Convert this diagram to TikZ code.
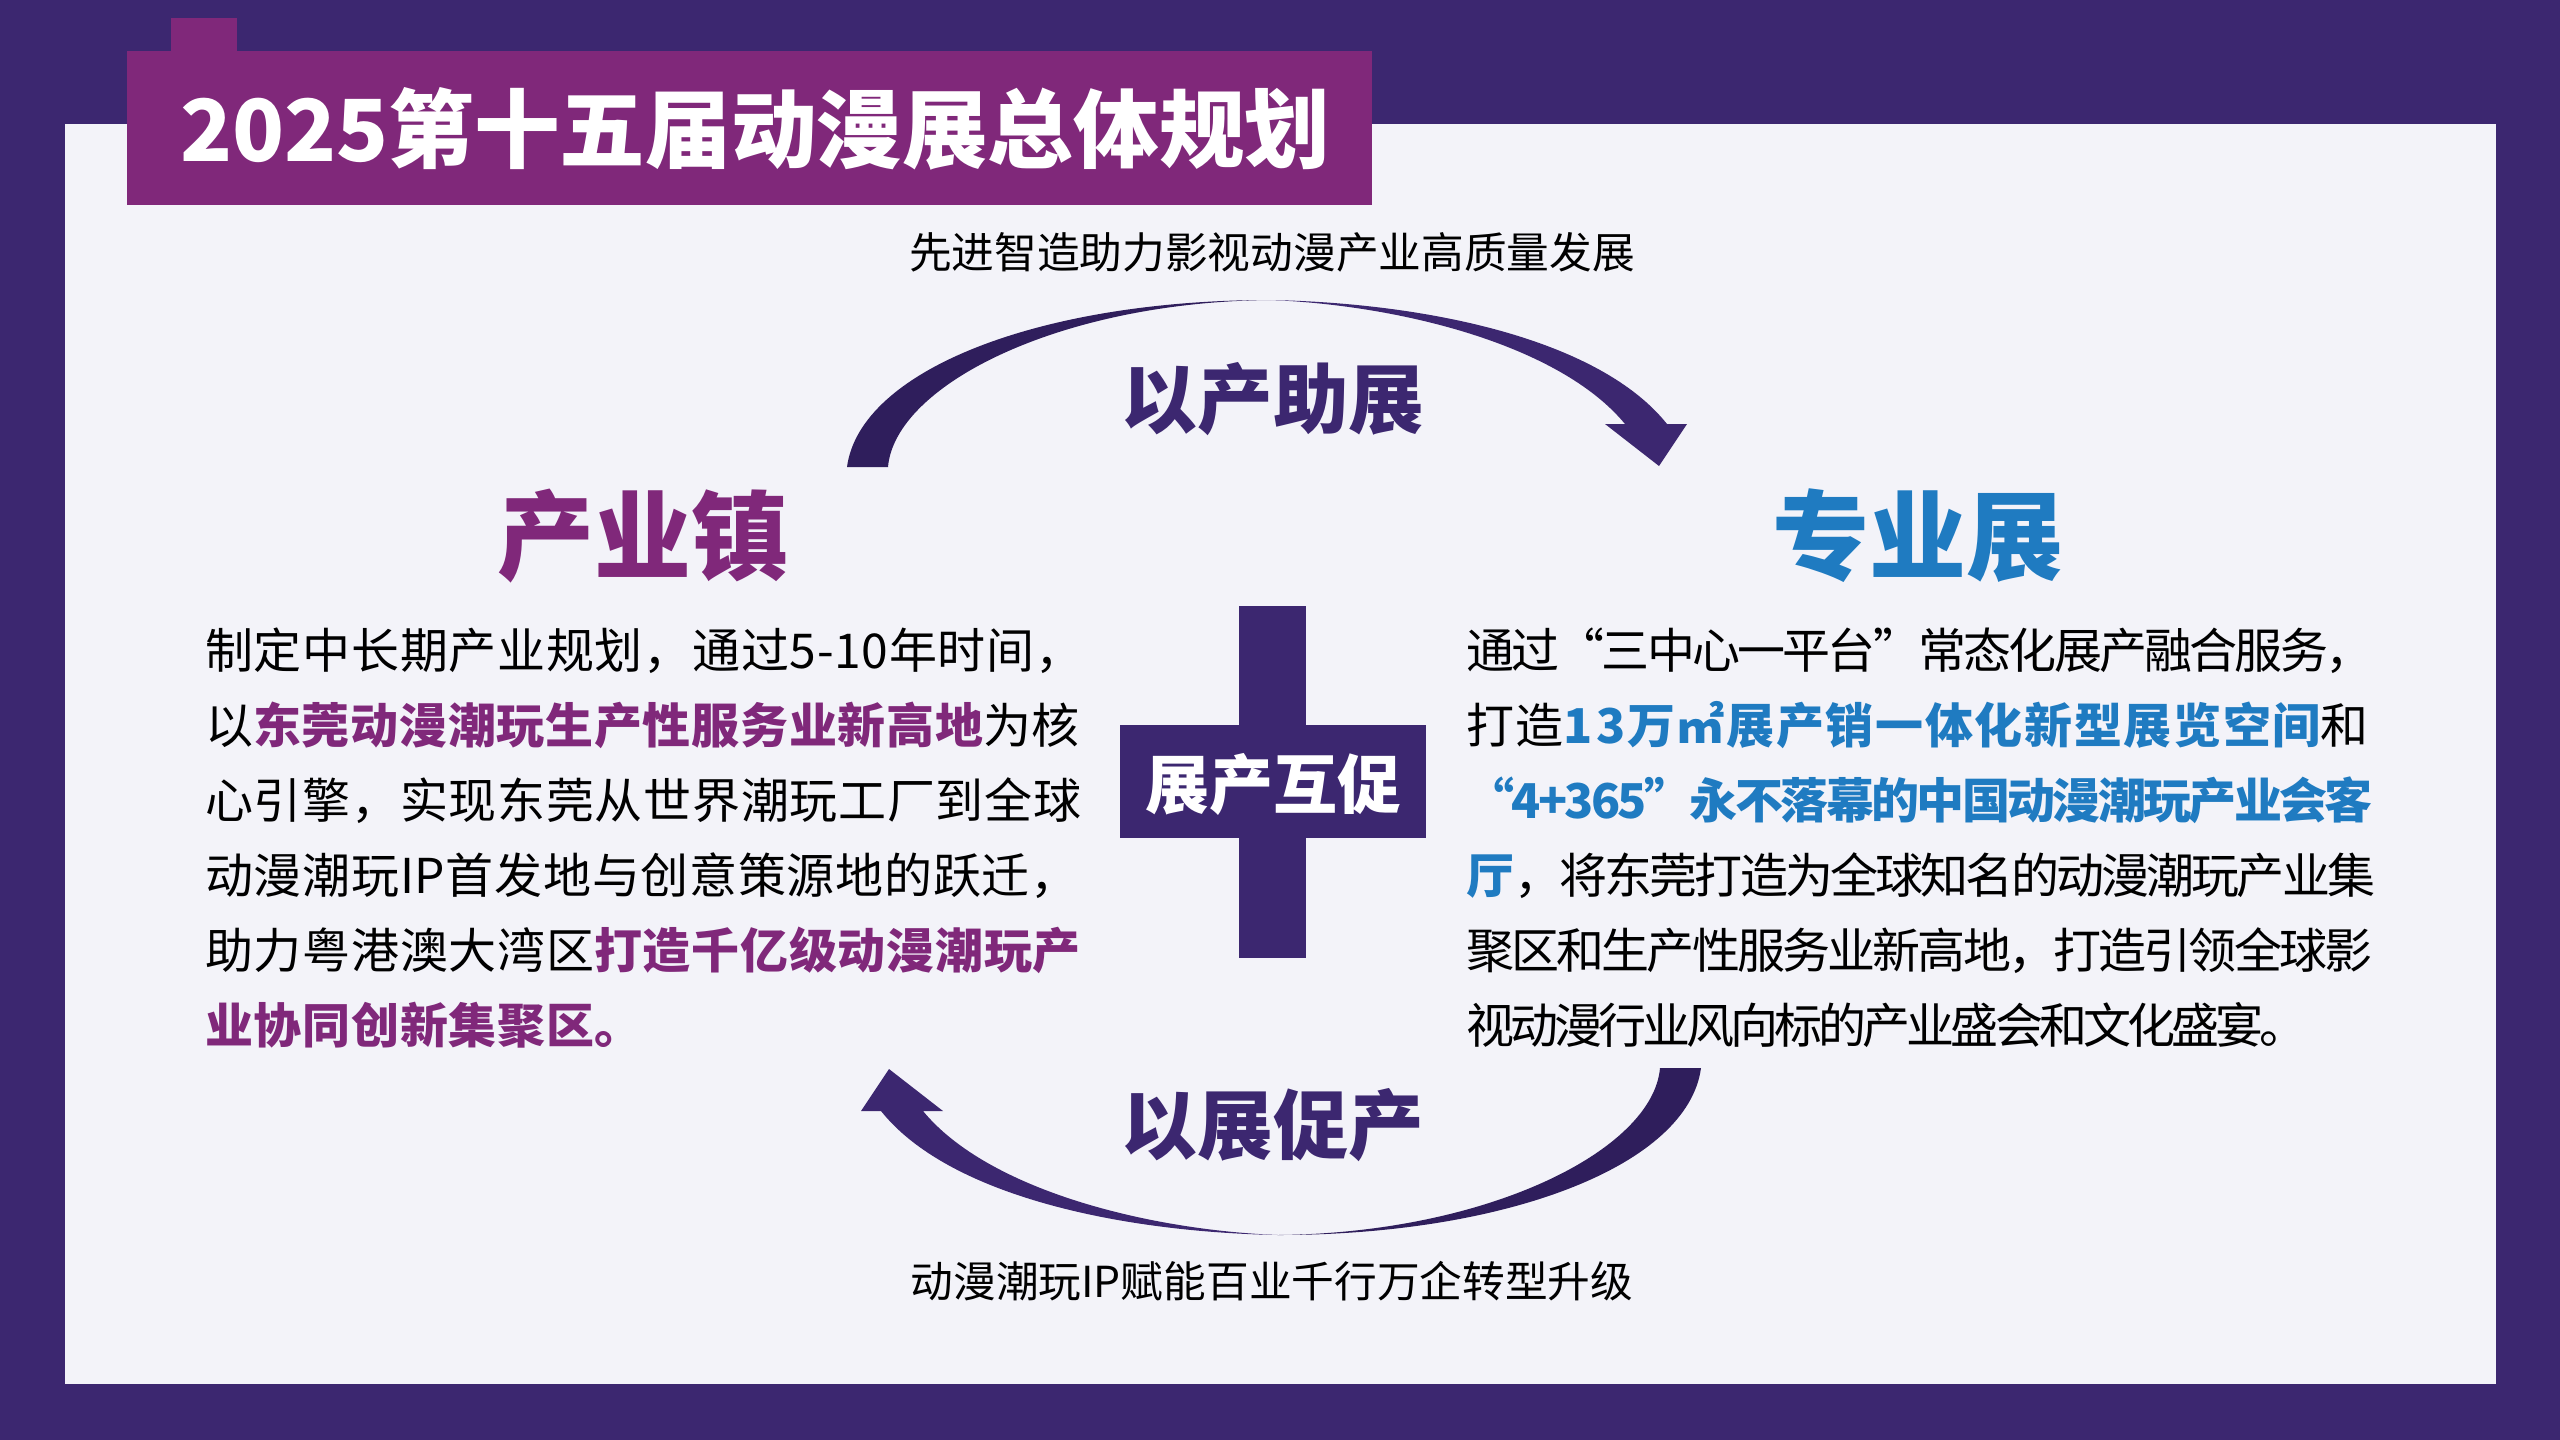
\documentclass[tikz,border=0pt]{standalone}
\usepackage{fontspec}
\setmainfont{Noto Sans CJK SC}
\definecolor{framepurple}{HTML}{3C2770}
\definecolor{darkpurple}{HTML}{2F1E5C}
\definecolor{panelwhite}{HTML}{F3F3F9}
\definecolor{titlemagenta}{HTML}{80287A}
\definecolor{expoblue}{HTML}{1F7BC1}
\newcommand{\hlp}[1]{\textcolor{titlemagenta}{\bfseries #1}}
\newcommand{\hlb}[1]{\textcolor{expoblue}{\bfseries #1}}
\newcommand{\spaced}[2]{{\addfontfeature{LetterSpace = #1}#2}}
\tikzset{
	caption/.style = {inner sep = 0, font = \fontsize{42.7}{50}\selectfont},
	bigverb/.style = {inner sep = 0, text = framepurple, font = \fontsize{75.6}{80}\selectfont\bfseries},
	sidehead/.style = {inner sep = 0, font = \fontsize{97}{100}\selectfont\bfseries},
	bodytext/.style = {inner sep = 0, anchor = west, align = left, font = \fontsize{48}{75}\selectfont}
}
\begin{document}
\begin{tikzpicture}[x = 1pt, y = -1pt]
	\useasboundingbox (0, 0) rectangle (2560, 1440);
	% Frame
	\fill[framepurple] (0, 0) rectangle (2560, 1440);
	\fill[panelwhite] (65, 124) rectangle (2496, 1384);
	\fill[titlemagenta] (171, 18) rectangle (237, 52);
	\fill[titlemagenta] (127, 51) rectangle (1372, 205);

	% Cross
	\fill[framepurple] (1239, 606) rectangle (1306, 958);
	\fill[framepurple] (1120, 725) rectangle (1426, 838);

	% Arrows
	\foreach \ang in {0, 180} {
		\begin{scope}[rotate around = {\ang:(1274, 767.5)}]
			\fill[darkpurple] (847, 467) .. controls (860, 370) and (1040, 300) .. (1270, 300)
				.. controls (1060, 302) and (895, 385) .. (888, 467) -- cycle;
			\fill[framepurple] (1270, 300) .. controls (1430, 303) and (1600, 340) .. (1667, 424)
				-- (1687, 424) -- (1659, 466) -- (1605, 424) -- (1625, 424)
				.. controls (1560, 345) and (1400, 305) .. (1270, 300) -- cycle;
		\end{scope}
	}

	% Texts
	\node[inner sep = 0, anchor = west, text = white, font = \fontsize{85.6}{90}\selectfont\bfseries] (title) at (180, 129) {2025第十五届动漫展总体规划};
	\node[caption] (topcap) at (1272, 252) {先进智造助力影视动漫产业高质量发展};
	\node[caption] (botcap) at (1272, 1281) {动漫潮玩IP赋能百业千行万企转型升级};
	\node[bigverb] (topverb) at (1273, 399) {以产助展};
	\node[bigverb] (botverb) at (1273, 1125) {以展促产};
	\node[inner sep = 0, text = white, font = \fontsize{64}{70}\selectfont\bfseries] (crossverb) at (1273, 784) {展产互促};
	\node[sidehead, text = titlemagenta] (townhead) at (643, 536) {产业镇};
	\node[sidehead, text = expoblue] (expohead) at (1918, 536) {专业展};

	\node[bodytext] (towntext) at (205, 838) {%
		\spaced{1.5}{制定中长期产业规划，通过5-10年时间，}\\
		\spaced{1.5}{以\hlp{东莞动漫潮玩生产性服务业新高地}为核}\\
		\spaced{1.5}{心引擎，实现东莞从世界潮玩工厂到全球}\\
		\spaced{1.5}{动漫潮玩IP首发地与创意策源地的跃迁，}\\
		\spaced{1.5}{助力粤港澳大湾区\hlp{打造千亿级动漫潮玩产}}\\
		\spaced{1.5}{\hlp{业协同创新集聚区。}}};
	\node[bodytext] (expotext) at (1466, 838) {%
		\spaced{-5.8}{通过“三中心一平台”常态化展产融合服务，}\\
		\spaced{3.5}{打造\hlb{1\hspace{3pt}3万㎡展产销一体化新型展览空间}和}\\
		\spaced{-5.5}{\hlb{“4+365”永不落幕的中国动漫潮玩产业会客}}\\
		\spaced{-5.9}{\hlb{厅}，将东莞打造为全球知名的动漫潮玩产业集}\\
		\spaced{-5.9}{聚区和生产性服务业新高地，打造引领全球影}\\
		\spaced{-8.2}{视动漫行业风向标的产业盛会和文化盛宴。}};
\end{tikzpicture}
\end{document}
